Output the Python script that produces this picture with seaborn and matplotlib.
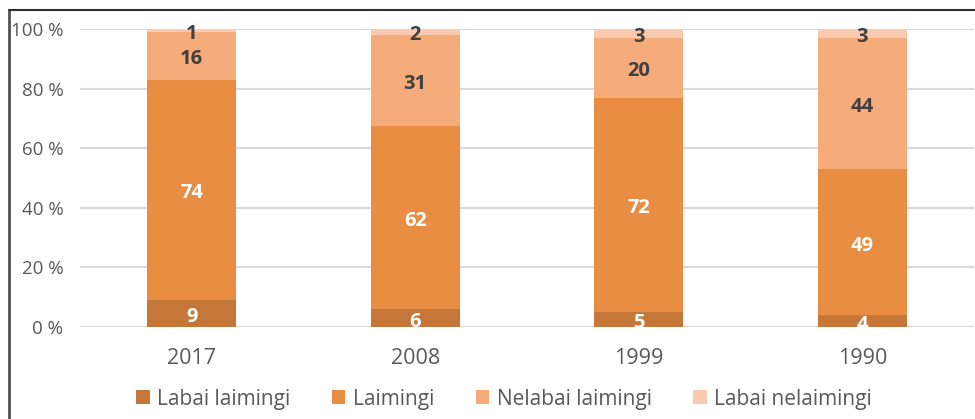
import numpy as np
import pandas as pd
import matplotlib
matplotlib.use("Agg")
import matplotlib.pyplot as plt
from matplotlib.patches import Patch
from matplotlib.lines import Line2D
import seaborn as sns

# data (raw survey values, shown as 100 % stacked bars)
years = ["2017", "2008", "1999", "1990"]
series = ["Labai laimingi", "Laimingi", "Nelabai laimingi", "Labai nelaimingi"]
labai_laimingi = [9, 6, 5, 4]
laimingi = [74, 62, 72, 49]
nelabai_laimingi = [16, 31, 20, 44]
labai_nelaimingi = [1, 2, 3, 3]

colors = ["#C5773A", "#E88D41", "#F5AB7A", "#F9C9B0"]
label_colors = ["white", "white", "#404040", "#404040"]

sns.set_theme(style="white")
plt.rcParams["font.family"] = ["Open Sans", "DejaVu Sans"]

vals = np.array([labai_laimingi, laimingi, nelabai_laimingi, labai_nelaimingi], dtype=float)
pct = vals / vals.sum(axis=0) * 100
cum = pct.cumsum(axis=0)

fig = plt.figure(figsize=(9.75, 4.19), dpi=100)
ax = fig.add_axes([80 / 975, 92 / 419, 894 / 975, 298 / 419])

# stacked bars: draw cumulative totals from the top series down
for i in range(len(series) - 1, -1, -1):
    df = pd.DataFrame({"year": years, "cum": cum[i]})
    sns.barplot(data=df, x="year", y="cum", order=years, color=colors[i],
                width=0.4, errorbar=None, saturation=1, linewidth=0,
                ax=ax, zorder=3)

# segment labels (nudged down a little, like the original)
for i in range(len(series)):
    bottoms = cum[i] - pct[i]
    for j in range(len(years)):
        ax.annotate(f"{int(vals[i][j])}", (j, bottoms[j] + pct[i][j] / 2),
                    xytext=(0, -2.5), textcoords="offset points",
                    ha="center", va="center", fontsize=14.5, fontweight="bold",
                    color=label_colors[i], zorder=5)

ax.set_ylim(0, 100)
ax.set_xlim(-0.5, 3.5)
ax.set_yticks(np.arange(0, 101, 20))
ax.set_yticklabels([f"{v} %" for v in range(0, 101, 20)])
ax.yaxis.grid(True, color="#D9D9D9", linewidth=1.5, zorder=0)
ax.set_axisbelow(True)
for s in ax.spines.values():
    s.set_visible(False)
ax.set_xlabel("")
ax.set_ylabel("")
ax.tick_params(axis="y", labelsize=13.5, labelcolor="#595959", length=0, pad=12)
ax.tick_params(axis="x", labelsize=15.5, labelcolor="#595959", length=0, pad=15)

handles = [Patch(facecolor=c, edgecolor="none") for c in colors]
fig.legend(handles, series, loc="center", bbox_to_anchor=(504 / 975, 20 / 419),
           ncol=4, frameon=False, fontsize=15, labelcolor="#595959",
           handlelength=0.65, handleheight=0.65, handletextpad=0.35, columnspacing=2.0)

# chart frame (left and top edge)
fig.add_artist(Line2D([9 / 975, 9 / 975], [0, 409 / 419], transform=fig.transFigure,
                      color="#505050", linewidth=2))
fig.add_artist(Line2D([9 / 975, 1], [409 / 419, 409 / 419], transform=fig.transFigure,
                      color="#303030", linewidth=1.5))

fig.savefig("out.png", dpi=100)
